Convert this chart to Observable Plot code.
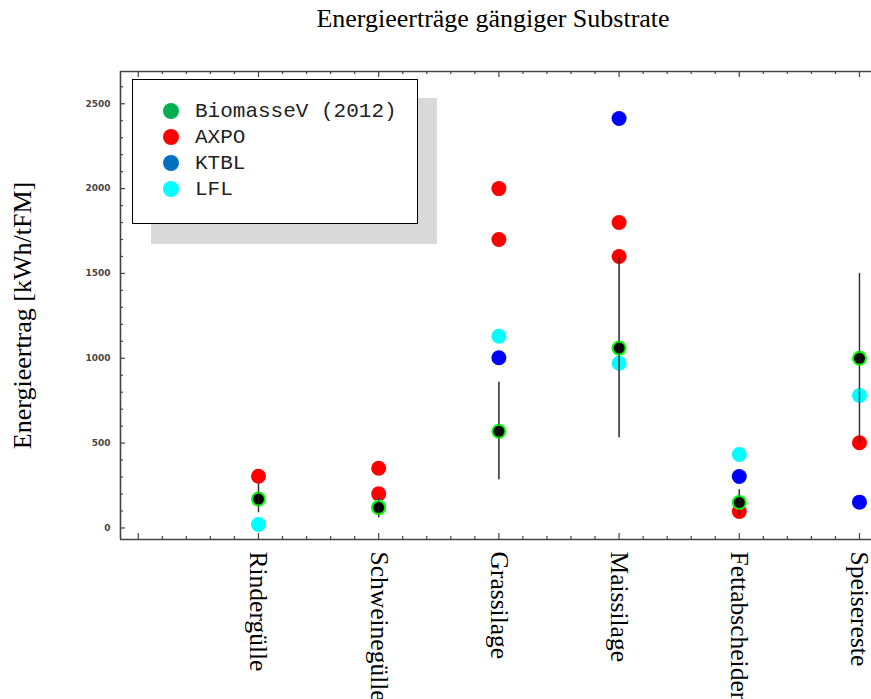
<!DOCTYPE html>
<html>
<head>
<meta charset="utf-8">
<script src="https://cdn.jsdelivr.net/npm/d3@7"></script>
<script src="https://cdn.jsdelivr.net/npm/@observablehq/plot@0.6"></script>
<style>
  html, body { margin: 0; padding: 0; background: #fff; }
  #wrap { position: relative; width: 871px; height: 699px; overflow: hidden; }
  #chart { position: absolute; left: 0; top: 0; }
  .shadow { position: absolute; left: 151px; top: 98px; width: 286px; height: 146px; background: #d9d9d9; }
  .legend { position: absolute; left: 132px; top: 79px; width: 286px; height: 145px; box-sizing: border-box;
            border: 1.6px solid #000; background: #fff; }
  .item { position: absolute; left: 30px; height: 20px; display: flex; align-items: center;
          font-family: "Liberation Mono", "DejaVu Sans Mono", monospace; font-size: 21px; color: #222; white-space: nowrap; }
  .sw { width: 16px; height: 16px; border-radius: 50%; margin-right: 16px; flex: none; }
</style>
</head>
<body>
<div id="wrap">
  <div id="chart"></div>
  <div class="shadow"></div>
  <div class="legend" id="legend"></div>
</div>
<script>
const categories = ["Rindergülle", "Schweinegülle", "Grassilage", "Maissilage", "Fettabscheider", "Speisereste"];
const biomasseV   = [170, 120, 570, 1060, 150, 1000];
const biomasseLow = [90, 60, 284, 531, 74, 500];
const biomasseHigh= [260, 175, 859, 1590, 225, 1500];
const axpo = [[305], [352, 201], [2000, 1700], [1800, 1600], [97], [502]];
const ktbl = [null, null, 1003, 2413, 303, 152];
const lfl  = [20, 123, 1130, 971, 433, 781];
const yTickLabels = [0, 500, 1000, 1500, 2000, 2500];
const seriesNames = ["BiomasseV (2012)", "AXPO", "KTBL", "LFL"];
const legendColors = ["#00b050", "#ff0000", "#0070c0", "#00ffff"];

const W = 871, H = 699, mL = 120, mT = 71, mB = 160, mR = 0;
const plotW = W - mL - mR, plotH = H - mT - mB;
const xDomain = [-1.148, 5.1];
const yDomain = [-68, 2690];

const idx = categories.map((c, i) => i);
const bioPts = idx.map(i => ({i, v: biomasseV[i]}));
const bars = idx.map(i => ({i, lo: biomasseLow[i], hi: biomasseHigh[i]}));
const axpoPts = idx.flatMap(i => axpo[i].map(v => ({i, v})));
const ktblPts = idx.filter(i => ktbl[i] != null).map(i => ({i, v: ktbl[i]}));
const lflPts = idx.map(i => ({i, v: lfl[i]}));

const xMinor = d3.range(-5, 26).map(k => k / 5).filter(v => Math.abs(v - Math.round(v)) > 1e-6);
const xMajor = d3.range(-1, 6);
const yMinor = d3.range(0, 2700, 100).filter(v => v % 500 !== 0);
const axisColor = "#444";

const chart = Plot.plot({
  width: W, height: H,
  marginLeft: mL, marginRight: mR, marginTop: mT, marginBottom: mB,
  x: {type: "linear", domain: xDomain, axis: null},
  y: {type: "linear", domain: yDomain, axis: null},
  style: {background: "transparent", overflow: "visible"},
  marks: [
    Plot.ruleX([xDomain[0]], {stroke: axisColor, strokeWidth: 1.6}),
    Plot.ruleY([yDomain[0], yDomain[1]], {stroke: axisColor, strokeWidth: 1.6}),
    Plot.tickX(xMinor, {x: d => d, insetTop: plotH - 3, stroke: axisColor, strokeWidth: 1.2}),
    Plot.tickX(xMajor, {x: d => d, insetTop: plotH - 6, stroke: axisColor, strokeWidth: 1.2}),
    Plot.tickX(xMinor, {x: d => d, insetBottom: plotH - 3, stroke: axisColor, strokeWidth: 1.2}),
    Plot.tickX(xMajor, {x: d => d, insetBottom: plotH - 6, stroke: axisColor, strokeWidth: 1.2}),
    Plot.tickY(yMinor, {y: d => d, insetRight: plotW - 3, stroke: axisColor, strokeWidth: 1.2}),
    Plot.tickY(yTickLabels, {y: d => d, insetRight: plotW - 5, stroke: axisColor, strokeWidth: 1.2}),
    Plot.axisY(yTickLabels, {tickSize: 0, tickPadding: 10, fontSize: 9, fontWeight: "bold",
      fontFamily: "DejaVu Sans", fill: "#4a4545", label: null, tickFormat: d => String(d)}),
    Plot.axisX(idx, {tickSize: 0, tickPadding: 12, tickRotate: 90, tickFormat: i => categories[i],
      fontSize: 25.5, fontFamily: "Liberation Serif", fill: "#000", label: null}),
    Plot.text(["Energieerträge gängiger Substrate"], {frameAnchor: "top", dx: -3, dy: -53,
      fontSize: 26, fontFamily: "Liberation Serif", fill: "#000", lineAnchor: "middle", textAnchor: "middle"}),
    Plot.text(["Energieertrag [kWh/tFM]"], {frameAnchor: "left", dx: -98, dy: 10, rotate: -90,
      textAnchor: "middle", lineAnchor: "middle",
      fontSize: 26, fontFamily: "Liberation Serif", fill: "#000"}),
    Plot.dot(axpoPts, {x: "i", y: "v", r: 7.5, fill: "#ff0000"}),
    Plot.dot(ktblPts, {x: "i", y: "v", r: 7.5, fill: "#0000ff"}),
    Plot.dot(lflPts, {x: "i", y: "v", r: 7.5, fill: "#00ffff"}),
    Plot.ruleX(bars, {x: "i", y1: "lo", y2: "hi", stroke: "#333", strokeWidth: 1.4}),
    Plot.dot(bioPts, {x: "i", y: "v", r: 7.5, fill: "#00ff00"}),
    Plot.dot(bioPts, {x: "i", y: "v", r: 5.5, fill: "#000"}),
    Plot.ruleX(bars, {x: "i", y1: "lo", y2: "hi", stroke: "#333", strokeWidth: 1.2, strokeOpacity: 0.5})
  ]
});
document.getElementById("chart").appendChild(chart);

const legend = document.getElementById("legend");
seriesNames.forEach((name, k) => {
  const it = document.createElement("div");
  it.className = "item";
  it.style.top = (21 + 26 * k) + "px";
  const sw = document.createElement("span");
  sw.className = "sw";
  sw.style.background = legendColors[k];
  const tx = document.createElement("span");
  tx.textContent = name;
  it.appendChild(sw); it.appendChild(tx);
  legend.appendChild(it);
});
</script>
</body>
</html>
